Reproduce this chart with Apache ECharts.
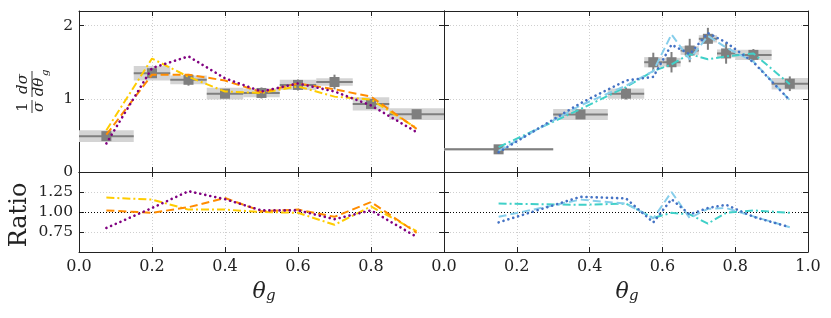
<!DOCTYPE html>
<html><head><meta charset="utf-8">
<script src="https://cdn.jsdelivr.net/npm/echarts@6/dist/echarts.min.js"></script>
<style>html,body{margin:0;padding:0;background:#fff}#c{width:831px;height:318px}</style>
</head><body><div id="c"></div>
<script>
// ---- Left panel (data) ----
const leftEdges   = [0, 0.15, 0.25, 0.35, 0.45, 0.55, 0.65, 0.75, 0.85, 1.0];
const leftCenters = [0.075, 0.2, 0.3, 0.4, 0.5, 0.6, 0.7, 0.8, 0.925];
const leftData    = [0.49, 1.35, 1.26, 1.07, 1.08, 1.19, 1.23, 0.93, 0.79];
const leftStat    = [0.03, 0.04, 0.08, 0.05, 0.075, 0.075, 0.1, 0.06, 0.05];
const leftSys     = [0.08, 0.10, 0.06, 0.08, 0.06, 0.07, 0.05, 0.09, 0.08];
// left theory curves
const leftYellow  = [0.57, 1.55, 1.30, 1.10, 1.08, 1.17, 1.03, 0.99, 0.60];
const leftOrange  = [0.51, 1.33, 1.33, 1.25, 1.09, 1.21, 1.13, 1.03, 0.59];
const leftPurple  = [0.39, 1.42, 1.58, 1.28, 1.10, 1.21, 1.10, 0.91, 0.545];
const leftYellowR = [1.18, 1.155, 1.03, 1.03, 1.0, 0.99, 0.84, 1.07, 0.76];
const leftOrangeR = [1.02, 0.99, 1.06, 1.175, 1.01, 1.03, 0.94, 1.125, 0.74];
const leftPurpleR = [0.80, 1.05, 1.26, 1.16, 1.02, 1.02, 0.91, 1.02, 0.69];

// ---- Right panel (data) ----
const rightEdges   = [0, 0.3, 0.45, 0.55, 0.6, 0.65, 0.7, 0.75, 0.8, 0.9, 1.0];
const rightCenters = [0.15, 0.375, 0.5, 0.575, 0.625, 0.675, 0.725, 0.775, 0.85, 0.95];
const rightData    = [0.31, 0.787, 1.07, 1.50, 1.50, 1.66, 1.82, 1.62, 1.60, 1.206];
const rightStat    = [0.01, 0.03, 0.08, 0.13, 0.14, 0.16, 0.15, 0.14, 0.08, 0.10];
const rightSys     = [0.015, 0.075, 0.07, 0.07, 0.06, 0.06, 0.05, 0.055, 0.07, 0.08];
const rightTeal    = [0.34, 0.86, 1.16, 1.38, 1.47, 1.61, 1.54, 1.58, 1.62, 1.20];
const rightSky     = [0.29, 0.91, 1.18, 1.38, 1.88, 1.54, 1.86, 1.70, 1.51, 0.98];
const rightBlue    = [0.27, 0.94, 1.25, 1.30, 1.74, 1.61, 1.90, 1.77, 1.50, 0.98];
const rightTealR   = [1.105, 1.09, 1.105, 0.925, 0.99, 0.97, 0.855, 0.99, 1.02, 0.99];
const rightSkyR    = [0.94, 1.155, 1.105, 0.92, 1.25, 0.925, 1.04, 1.05, 0.945, 0.81];
const rightBlueR   = [0.87, 1.19, 1.17, 0.87, 1.16, 0.97, 1.05, 1.09, 0.94, 0.81];

const xTicks = [0.0, 0.2, 0.4, 0.6, 0.8, 1.0];
const topTicks = [0, 1, 2];
const ratioTicks = [0.75, 1.00, 1.25];

const FONT = 'DejaVu Serif';
const AX = '#222';

const grids = [
  {left: 79, top: 11, width: 365, height: 161},
  {left: 444, top: 11, width: 364, height: 161},
  {left: 79, top: 172, width: 365, height: 80},
  {left: 444, top: 172, width: 364, height: 80}
];

function xAx(gi, pos, labels, hideMax) {
  return {
    type: 'value', gridIndex: gi, position: pos, min: 0, max: 1, interval: 0.2,
    axisLine: {show: true, onZero: false, lineStyle: {color: AX, width: 1}},
    axisTick: {show: true, inside: true, length: 5, lineStyle: {color: AX}},
    axisLabel: {show: labels, fontFamily: FONT, fontSize: 16, color: AX, margin: 7,
      showMaxLabel: !hideMax, formatter: v => v.toFixed(1)},
    splitLine: {show: pos === 'bottom', lineStyle: {color: '#cfcfcf', type: [1, 2], width: 1}}
  };
}
function yAx(gi, pos, labels, kind) {
  const ratio = kind === 'ratio';
  return {
    type: 'value', gridIndex: gi, position: pos,
    min: ratio ? 0.5 : 0, max: ratio ? 1.5 : 2.2, interval: ratio ? 0.25 : 1,
    axisLine: {show: true, onZero: false, lineStyle: {color: AX, width: 1}},
    axisTick: {show: true, inside: true, length: 5, lineStyle: {color: AX}},
    axisLabel: {show: labels, fontFamily: FONT, fontSize: 15.5, color: AX, margin: 6,
      showMinLabel: !ratio, showMaxLabel: false,
      formatter: v => ratio ? v.toFixed(2) : String(v)},
    splitLine: {show: pos === 'left', lineStyle: {color: '#cfcfcf', type: [1, 2], width: 1}}
  };
}

const xAxis = [
  xAx(0, 'bottom', false), xAx(1, 'bottom', false), xAx(2, 'bottom', true, true), xAx(3, 'bottom', true, false),
  xAx(0, 'top', false), xAx(1, 'top', false), xAx(2, 'top', false), xAx(3, 'top', false)
];
const yAxis = [
  yAx(0, 'left', true, 'top'), yAx(1, 'left', false, 'top'), yAx(2, 'left', true, 'ratio'), yAx(3, 'left', false, 'ratio'),
  yAx(0, 'right', false, 'top'), yAx(1, 'right', false, 'top'), yAx(2, 'right', false, 'ratio'), yAx(3, 'right', false, 'ratio')
];

function dataItems(edges, centers, vals, stat, sys) {
  return vals.map((v, i) => [edges[i], edges[i + 1], centers[i], v, stat[i], sys[i]]);
}
function boxSeries(idx, items) {
  return {
    type: 'custom', xAxisIndex: idx, yAxisIndex: idx, z: 1, clip: true, silent: true,
    data: items,
    renderItem: (params, api) => {
      const lo = api.value(0), hi = api.value(1), v = api.value(3), sy = api.value(5);
      const a = api.coord([lo, v + sy]), b = api.coord([hi, v - sy]);
      return {type: 'rect', shape: {x: a[0], y: a[1], width: b[0] - a[0], height: b[1] - a[1]},
        style: {fill: '#d4d4d4'}};
    }
  };
}
function pointSeries(idx, items) {
  return {
    type: 'custom', xAxisIndex: idx, yAxisIndex: idx, z: 2, clip: true, silent: true,
    data: items,
    renderItem: (params, api) => {
      const lo = api.value(0), hi = api.value(1), c = api.value(2), v = api.value(3), st = api.value(4);
      const l = api.coord([lo, v]), r = api.coord([hi, v]);
      const t = api.coord([c, v + st]), bt = api.coord([c, v - st]);
      const m = api.coord([c, v]);
      const col = '#7f7f7f';
      return {type: 'group', children: [
        {type: 'line', shape: {x1: l[0], y1: l[1], x2: r[0], y2: r[1]}, style: {stroke: col, lineWidth: 2}},
        {type: 'line', shape: {x1: t[0], y1: t[1], x2: bt[0], y2: bt[1]}, style: {stroke: col, lineWidth: 2}},
        {type: 'rect', shape: {x: m[0] - 5, y: m[1] - 5, width: 10, height: 10}, style: {fill: col}}
      ]};
    }
  };
}
function lineSeries(idx, xs, ys, color, dash, width, cap, withRef) {
  const s = {
    type: 'line', xAxisIndex: idx, yAxisIndex: idx, z: 3, silent: true, symbol: 'none',
    data: xs.map((x, i) => [x, ys[i]]),
    lineStyle: {color: color, width: width, type: dash, cap: cap || 'butt'}
  };
  if (withRef) {
    s.markLine = {silent: true, symbol: 'none', label: {show: false}, z: 2,
      lineStyle: {color: '#000', type: [1, 2], width: 1}, data: [{yAxis: 1}]};
  }
  return s;
}

const YEL = '#FFCC00', ORA = '#FF8C00', PUR = '#800080';
const TEAL = '#40D0C8', SKY = '#87CEEB', BLU = '#4472C4';
const DASHDOT = [8, 3, 2, 3], DASH = [8, 4], DOT = [0.1, 5];

const series = [
  boxSeries(0, dataItems(leftEdges, leftCenters, leftData, leftStat, leftSys)),
  pointSeries(0, dataItems(leftEdges, leftCenters, leftData, leftStat, leftSys)),
  boxSeries(1, dataItems(rightEdges, rightCenters, rightData, rightStat, rightSys)),
  pointSeries(1, dataItems(rightEdges, rightCenters, rightData, rightStat, rightSys)),
  lineSeries(0, leftCenters, leftYellow, YEL, DASHDOT, 2),
  lineSeries(0, leftCenters, leftOrange, ORA, DASH, 2),
  lineSeries(0, leftCenters, leftPurple, PUR, DOT, 2.6, 'round'),
  lineSeries(2, leftCenters, leftYellowR, YEL, DASHDOT, 2, null, true),
  lineSeries(2, leftCenters, leftOrangeR, ORA, DASH, 2),
  lineSeries(2, leftCenters, leftPurpleR, PUR, DOT, 2.6, 'round'),
  lineSeries(1, rightCenters, rightTeal, TEAL, DASHDOT, 2),
  lineSeries(1, rightCenters, rightSky, SKY, DASH, 2),
  lineSeries(1, rightCenters, rightBlue, BLU, DOT, 2.6, 'round'),
  lineSeries(3, rightCenters, rightTealR, TEAL, DASHDOT, 2, null, true),
  lineSeries(3, rightCenters, rightSkyR, SKY, DASH, 2),
  lineSeries(3, rightCenters, rightBlueR, BLU, DOT, 2.6, 'round')
];

const it = (size) => ({fontFamily: FONT, fontStyle: 'italic', fontSize: size, fill: AX});
const graphic = [
  // y-axis title: (1/sigma) dsigma/dtheta_g, rotated
  {type: 'group', x: 32, y: 86, rotation: Math.PI / 2, children: [
    {type: 'text', x: -21, y: -1, style: {text: '1', fontFamily: FONT, fontSize: 15, fill: AX, align: 'center', verticalAlign: 'bottom'}},
    {type: 'line', shape: {x1: -27, y1: 0, x2: -14, y2: 0}, style: {stroke: AX, lineWidth: 0.9}},
    {type: 'text', x: -21, y: 0, style: Object.assign({text: 'σ', align: 'center', verticalAlign: 'top'}, it(15))},
    {type: 'text', x: 2, y: -1, style: Object.assign({text: 'dσ', align: 'center', verticalAlign: 'bottom'}, it(15))},
    {type: 'line', shape: {x1: -11, y1: 0, x2: 15, y2: 0}, style: {stroke: AX, lineWidth: 0.9}},
    {type: 'text', x: -1, y: 0, style: Object.assign({text: 'dθ', align: 'center', verticalAlign: 'top'}, it(15))},
    {type: 'text', x: 10, y: 8, style: Object.assign({text: 'g', align: 'left', verticalAlign: 'top'}, it(10))}
  ]},
  {type: 'text', x: 20, y: 215, rotation: Math.PI / 2,
    style: {text: 'Ratio', fontFamily: FONT, fontSize: 24, fill: AX, align: 'center', verticalAlign: 'middle'}},
  {type: 'text', x: 259, y: 292, style: Object.assign({text: 'θ', align: 'center', verticalAlign: 'middle'}, it(22))},
  {type: 'text', x: 266, y: 296, style: Object.assign({text: 'g', align: 'left', verticalAlign: 'middle'}, it(15))},
  {type: 'text', x: 622, y: 292, style: Object.assign({text: 'θ', align: 'center', verticalAlign: 'middle'}, it(22))},
  {type: 'text', x: 629, y: 296, style: Object.assign({text: 'g', align: 'left', verticalAlign: 'middle'}, it(15))}
];

const chart = echarts.init(document.getElementById('c'), null, {renderer: 'canvas'});
chart.setOption({animation: false, grid: grids, xAxis: xAxis, yAxis: yAxis, series: series, graphic: graphic});
</script>
</body></html>
